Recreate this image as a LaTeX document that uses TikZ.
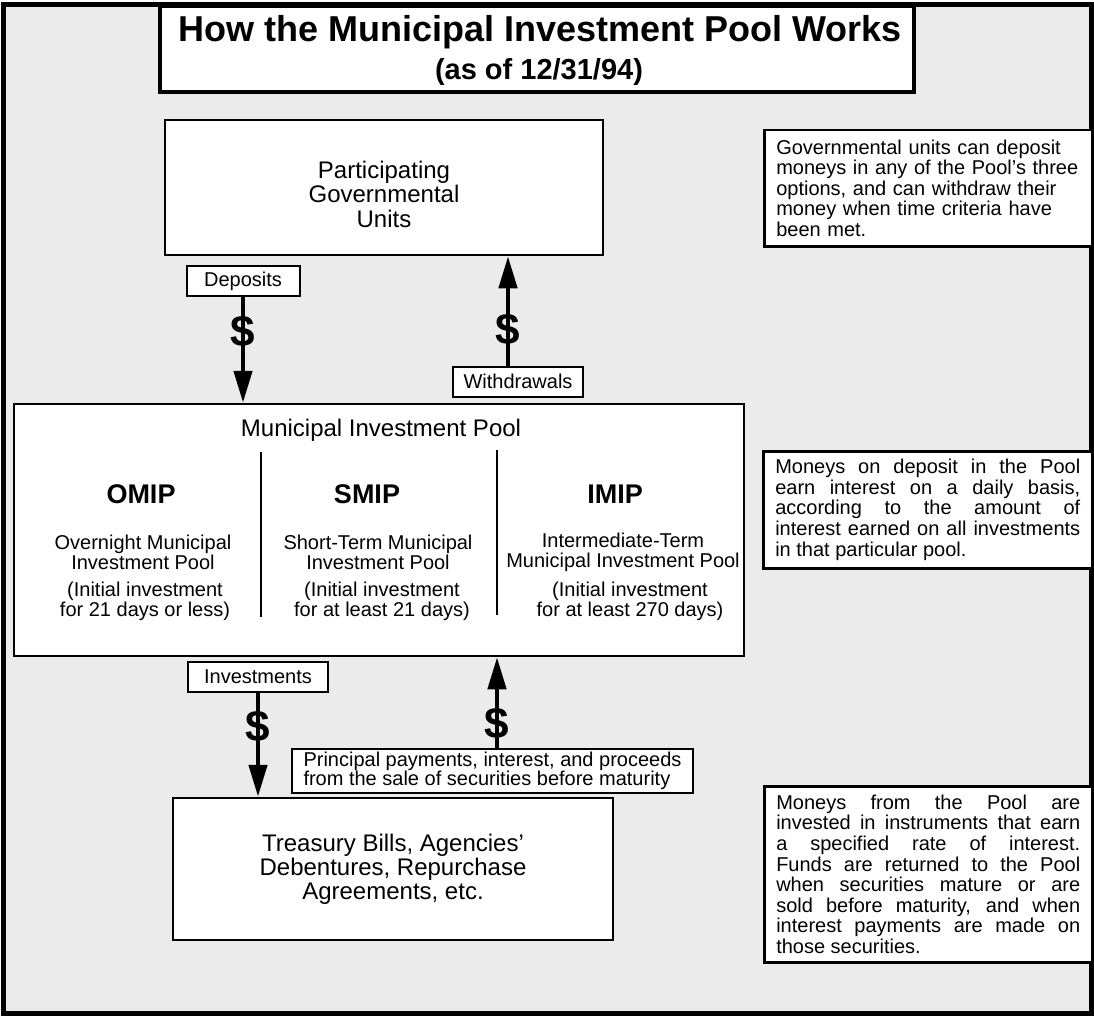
\documentclass[tikz,border=0pt]{standalone}
\usepackage{fontspec}
\setmainfont{Liberation Sans}
\usetikzlibrary{arrows.meta}
\newcommand{\fsz}[2]{\fontsize{#1}{#2}\selectfont}
\tikzset{box/.style = {draw, fill=white, line width=2.5pt, rectangle},
         tag/.style = {draw, fill=white, line width=2pt, rectangle, minimum height=30pt, font=\fsz{20}{20}},
         note/.style = {draw, fill=white, line width=2.5pt, rectangle, anchor=north west, inner xsep=12pt, font=\fsz{20}{20.6}},
         pname/.style = {font=\bfseries\fsz{27}{27}},
         pdesc/.style = {align=center, font=\fsz{20}{20}},
         cash/.style = {font=\bfseries\fsz{44}{44}, inner sep=0pt},
         flow/.style = {-{Triangle[length=32pt,width=18pt]}, line width=4.5pt}}

\begin{document}
\begin{tikzpicture}[x=1pt,y=-1pt]
        \useasboundingbox(0,0)rectangle(1094,1019);
        \fill[black!8](3,5)rectangle(1091,1013);
        \draw[line width=5pt](3,5)rectangle(1091,1013);

        % title
        \node[box,line width=4pt,minimum width=754pt,minimum height=86pt](head)at(537,49){};
        \node[font=\bfseries\fsz{36}{36}](title)at(540,32){How the Municipal Investment Pool Works};
        \node[font=\bfseries\fsz{29}{29}](date)at(539,72){(as of 12/31/94)};

        \node[box,minimum width=438pt,minimum height=135pt](units)at(384,187.5){};
        \node[align=center,font=\fsz{24}{24.5}](unitsname)at(384,194){Participating\\Governmental\\Units};

        \node[box,minimum width=730pt,minimum height=252pt](pool)at(379,530){};
        \node[font=\fsz{24}{24}](poolname)at(381,430){Municipal Investment Pool};
        \draw[line width=2pt](261,452)--(261,617);
        \draw[line width=2pt](497,450)--(497,615);

        \node[pname](omip)at(141,494){OMIP};
        \node[pdesc](omipd)at(143,552){Overnight Municipal\\Investment Pool};
        \node[pdesc](omipt)at(145,601){(Initial investment\\for 21 days or less)};
        \node[pname](smip)at(367,494){SMIP};
        \node[pdesc](smipd)at(378,552){Short-Term Municipal\\Investment Pool};
        \node[pdesc](smipt)at(382,601){(Initial investment\\for at least 21 days)};
        \node[pname](imip)at(615,494){IMIP};
        \node[pdesc](imipd)at(623,552){Intermediate-Term\\Municipal Investment Pool};
        \node[pdesc](imipt)at(630,601){(Initial investment\\for at least 270 days)};

        \node[box,minimum width=440pt,minimum height=142pt,align=center,font=\fsz{24}{24}](bills)at(393,869){Treasury Bills, Agencies'\\Debentures, Repurchase\\Agreements, etc.};
        \node[box,line width=2pt,minimum width=401pt,minimum height=44pt,align=left,font=\fsz{20}{19}](paid)at(492.5,771){Principal payments, interest, and proceeds\\from the sale of securities before maturity};

        % side notes
        \node[note,text width=304pt,minimum height=116pt,align=left](n1)at(763,129){Governmental units can deposit\\moneys in any of the Pool's three\\options, and can withdraw their\\money when time criteria have\\been met.};
        \node[note,text width=305pt,minimum height=117pt,align=justify](n2)at(762,450){Moneys on deposit in the Pool\linebreak earn interest on a daily basis,\linebreak according to the amount of\linebreak interest earned on all investments\linebreak in that particular pool.};
        \node[note,text width=304pt,minimum height=176pt,align=justify](n3)at(763,785){Moneys from the Pool are\linebreak invested in instruments that earn\linebreak a specified rate of interest.\linebreak Funds are returned to the Pool\linebreak when securities mature or are\linebreak sold before maturity, and when\linebreak interest payments are made on\linebreak those securities.};

        % money flows
        \node[tag,minimum width=113pt](dep)at(243,281){Deposits};
        \draw[flow](dep.south)--(dep.south|-pool.north);
        \node[cash](d1)at(243,332){\$};

        \node[tag,minimum width=130pt](wd)at(518,381.5){Withdrawals};
        \draw[flow]([xshift=-10pt]wd.north)--([xshift=-10pt]wd.north|-units.south);
        \node[cash](d2)at(508,330){\$};

        \node[tag,minimum width=140pt](inv)at(258,676.5){Investments};
        \draw[flow](inv.south)--(inv.south|-bills.north);
        \node[cash](d3)at(258,727){\$};

        \draw[flow]([xshift=4.5pt]paid.north)--([xshift=4.5pt]paid.north|-pool.south);
        \node[cash](d4)at(497,724){\$};
\end{tikzpicture}
\end{document}
